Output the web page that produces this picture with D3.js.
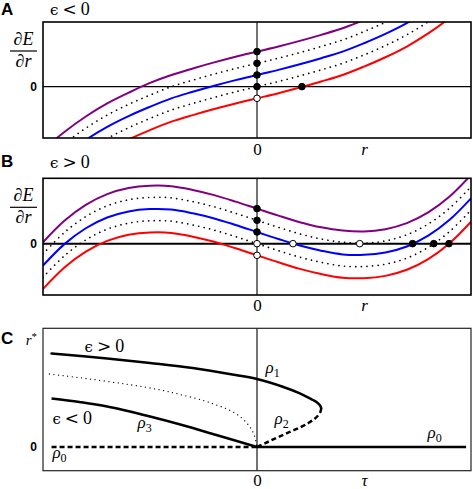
<!DOCTYPE html>
<html><head><meta charset="utf-8">
<script src="https://cdn.jsdelivr.net/npm/d3@7"></script>
<style>body{margin:0;background:#fff} svg{display:block}</style>
</head><body>
<svg id="chart" width="473" height="489"></svg>
<script>
// ---------- DATA ----------
const rSamples = [-1.0,-0.9,-0.8,-0.7,-0.6,-0.5,-0.4,-0.3,-0.2,-0.1,0,0.1,0.2,0.3,0.4,0.5,0.6,0.7,0.8,0.9,1.0];
// Panel A (eps < 0)
const aPurple   = [-1.35,-0.97,-0.64,-0.36,-0.13,0.08,0.25,0.39,0.52,0.64,0.75,0.86,0.98,1.11,1.25,1.43,1.63,1.86,2.14,2.47,2.85];
const aDotUpper = [-1.6,-1.22,-0.89,-0.61,-0.38,-0.18,0.0,0.14,0.27,0.39,0.5,0.61,0.73,0.86,1.0,1.18,1.38,1.61,1.89,2.22,2.6];
const aBlue     = [-1.85,-1.47,-1.14,-0.86,-0.63,-0.43,-0.25,-0.11,0.02,0.14,0.25,0.36,0.48,0.61,0.75,0.93,1.13,1.36,1.64,1.97,2.35];
const aDotLower = [-2.1,-1.72,-1.39,-1.11,-0.88,-0.68,-0.5,-0.36,-0.23,-0.11,0,0.11,0.23,0.36,0.5,0.68,0.88,1.11,1.39,1.72,2.1];
const aRed      = [-2.35,-1.97,-1.64,-1.36,-1.13,-0.93,-0.75,-0.61,-0.48,-0.36,-0.25,-0.14,-0.02,0.11,0.25,0.43,0.63,0.86,1.14,1.47,1.85];
const aPointR      = [0,0,0,0,0,0.21];
const aPointV      = [0.75,0.5,0.25,0,-0.25,0];
const aPointFilled = [true,true,true,true,false,true];
// Panel B (eps > 0)
const bPurple   = [0.03,0.49,0.83,1.06,1.19,1.24,1.23,1.15,1.04,0.90,0.75,0.60,0.46,0.35,0.28,0.26,0.31,0.44,0.67,1.01,1.47];
const bDotUpper = [-0.22,0.24,0.58,0.81,0.94,0.99,0.98,0.90,0.79,0.65,0.5,0.35,0.21,0.10,0.03,0.01,0.06,0.19,0.42,0.76,1.22];
const bBlue     = [-0.47,-0.01,0.33,0.56,0.69,0.74,0.73,0.65,0.54,0.40,0.25,0.10,-0.04,-0.15,-0.23,-0.24,-0.19,-0.06,0.17,0.51,0.97];
const bDotLower = [-0.72,-0.26,0.08,0.31,0.44,0.49,0.48,0.40,0.29,0.15,0,-0.15,-0.29,-0.40,-0.48,-0.49,-0.44,-0.31,-0.08,0.26,0.72];
const bRed      = [-0.97,-0.51,-0.17,0.06,0.19,0.24,0.23,0.15,0.04,-0.10,-0.25,-0.40,-0.54,-0.65,-0.73,-0.74,-0.69,-0.56,-0.33,0.01,0.47];
const bPointR      = [0,0,0,0,0,0.168,0.48,0.727,0.826,0.897];
const bPointV      = [0.75,0.5,0.25,0,-0.25,0,0,0,0,0];
const bPointFilled = [true,true,true,false,false,false,false,true,true,true];
// Panel C (bifurcation diagram)
const cRho1Tau = [0.3,0.293,0.278,0.261,0.2,0.12,0,-0.1,-0.3,-0.5,-0.7,-0.96];
const cRho1R   = [0.39,0.42,0.45,0.47,0.537,0.603,0.68,0.72,0.79,0.84,0.885,0.935];
const cRho2Tau = [0,0.05,0.1,0.15,0.2,0.24,0.268,0.287,0.297,0.3];
const cRho2R   = [0,0.05,0.1,0.148,0.195,0.24,0.28,0.32,0.355,0.39];
const cEps0Tau = [-0.97,-0.8,-0.6,-0.45,-0.35,-0.25,-0.19,-0.13,-0.08,-0.04,-0.015,0];
const cEps0R   = [0.73,0.685,0.625,0.57,0.52,0.465,0.42,0.37,0.305,0.22,0.13,0];
const cRho3Tau = [-0.96,-0.83,-0.7,-0.5,-0.35,-0.19,0];
const cRho3R   = [0.485,0.45,0.405,0.305,0.22,0.12,0];
const cRho0LeftTau  = [-0.96,0];
const cRho0RightTau = [0,0.977];
const cRho0R        = [0,0];
// tick labels
const abXTicks = [0,0.5], abXTickLabels = ["0","r"];
const cXTicks = [0,0.5],  cXTickLabels = ["0","τ"];
const abYTicks = [0], abYTickLabels = ["0"];
const cYTicks = [0,1.07], cYTickLabels = ["0","r*"];

// ---------- DRAW ----------
const svg = d3.select("#chart");
const SERIF = "'Liberation Serif','DejaVu Serif',serif";
const SANS = "'Liberation Sans',Arial,sans-serif";
const X0 = 43, X1 = 471;

function makeLine(x, y) {
  return d3.line().x(d => x(d[0])).y(d => y(d[1])).curve(d3.curveCatmullRom.alpha(0.5));
}
function zip(a, b) { return a.map((v, i) => [v, b[i]]); }

// "ϵ < 0" style condition label with a wide relation sign
function condText(parent, xp, yp, rel) {
  const t = parent.append("text").attr("x", xp).attr("y", yp).attr("font-family", SERIF).attr("font-size", 18);
  t.append("tspan").attr("font-family", "'DejaVu Serif',serif").attr("font-size", 15).text("ϵ");
  t.append("tspan").attr("dx", 4).attr("font-family", "'DejaVu Serif',serif").attr("font-size", 17).text(rel);
  t.append("tspan").attr("dx", 4).text("0");
  return t;
}

function panel(opts) {
  const x = d3.scaleLinear().domain([-1, 1]).range([X0, X1]);
  const y = d3.scaleLinear().domain(opts.yDomain).range([opts.bottom, opts.top]);
  const g = svg.append("g");
  const clipId = "clip" + opts.id;
  svg.append("clipPath").attr("id", clipId).append("rect")
    .attr("x", X0).attr("y", opts.top).attr("width", X1 - X0).attr("height", opts.bottom - opts.top);
  g.append("line").attr("x1", X0).attr("x2", X1).attr("y1", y(0)).attr("y2", y(0))
    .attr("stroke", "#000").attr("stroke-width", opts.zeroW);
  g.append("line").attr("x1", x(0)).attr("x2", x(0)).attr("y1", opts.top).attr("y2", opts.bottom)
    .attr("stroke", "#000").attr("stroke-width", 1.1);
  const cg = g.append("g").attr("clip-path", `url(#${clipId})`);
  const line = makeLine(x, y);
  opts.series.forEach(s => {
    cg.append("path").datum(zip(rSamples, s.v)).attr("d", line).attr("fill", "none")
      .attr("stroke", s.c).attr("stroke-width", s.dot ? 1.7 : 2)
      .attr("stroke-dasharray", s.dot ? "0.01 5.6" : null)
      .attr("stroke-linecap", s.dot ? "round" : "butt");
  });
  g.append("rect").attr("x", X0).attr("y", opts.top).attr("width", X1 - X0).attr("height", opts.bottom - opts.top)
    .attr("fill", "none").attr("stroke", "#000").attr("stroke-width", 1.6);
  g.selectAll("circle.pt").data(opts.pr.map((r, i) => ({ r, v: opts.pv[i], f: opts.pf[i] })))
    .enter().append("circle").attr("cx", d => x(d.r)).attr("cy", d => y(d.v)).attr("r", 3.3)
    .attr("fill", d => d.f ? "#000" : "#fff").attr("stroke", "#000").attr("stroke-width", 1);
  const xa = g.append("g").attr("transform", `translate(0,${opts.bottom})`)
    .call(d3.axisBottom(x).tickValues(abXTicks).tickFormat((d, i) => abXTickLabels[i]).tickSize(0).tickPadding(opts.xpad));
  xa.select(".domain").remove();
  xa.selectAll("text").attr("font-family", SERIF).attr("font-size", 17).attr("fill", "#000")
    .attr("font-style", (d, i) => i === 1 ? "italic" : "normal");
  const ya = g.append("g").attr("transform", `translate(${X0},0)`)
    .call(d3.axisLeft(y).tickValues(abYTicks).tickFormat((d, i) => abYTickLabels[i]).tickSize(0).tickPadding(6));
  ya.select(".domain").remove();
  ya.selectAll("text").attr("font-family", SANS).attr("font-weight", "bold").attr("font-size", 12).attr("fill", "#000");
  const fx = 23.5;
  const t1 = g.append("text").attr("x", fx).attr("y", opts.top + 23).attr("text-anchor", "middle")
    .attr("font-family", SERIF).attr("font-size", 18);
  t1.append("tspan").text("∂");
  t1.append("tspan").attr("font-style", "italic").text("E");
  g.append("line").attr("x1", 10).attr("x2", 37).attr("y1", opts.top + 29).attr("y2", opts.top + 29)
    .attr("stroke", "#000").attr("stroke-width", 1.2);
  const t2 = g.append("text").attr("x", fx).attr("y", opts.top + 45).attr("text-anchor", "middle")
    .attr("font-family", SERIF).attr("font-size", 18);
  t2.append("tspan").text("∂");
  t2.append("tspan").attr("font-style", "italic").text("r");
  svg.append("text").attr("x", 1).attr("y", opts.letterY).attr("font-family", SANS).attr("font-weight", "bold")
    .attr("font-size", 17).text(opts.letter);
  condText(svg, 50, opts.titleY, opts.rel);
}

panel({ id: "A", top: 22, bottom: 138, yDomain: [-1.1, 1.385], zeroW: 1.2, xpad: 5,
  series: [{ v: aPurple, c: "#800080" }, { v: aDotUpper, c: "#000", dot: true }, { v: aBlue, c: "#0000ff" },
           { v: aDotLower, c: "#000", dot: true }, { v: aRed, c: "#ff0000" }],
  pr: aPointR, pv: aPointV, pf: aPointFilled, letter: "A", letterY: 15, rel: "<", titleY: 15 });
panel({ id: "B", top: 178.3, bottom: 295, yDomain: [-1.1, 1.4], zeroW: 2, xpad: 4,
  series: [{ v: bPurple, c: "#800080" }, { v: bDotUpper, c: "#000", dot: true }, { v: bBlue, c: "#0000ff" },
           { v: bDotLower, c: "#000", dot: true }, { v: bRed, c: "#ff0000" }],
  pr: bPointR, pv: bPointV, pf: bPointFilled, letter: "B", letterY: 167, rel: ">", titleY: 168 });

// Panel C
(function () {
  const top = 328.3, bottom = 470.7;
  const x = d3.scaleLinear().domain([-1, 1]).range([X0, X1]);
  const y = d3.scaleLinear().domain([-0.237, 1.187]).range([bottom, top]);
  const g = svg.append("g");
  g.append("line").attr("x1", x(0)).attr("x2", x(0)).attr("y1", top).attr("y2", bottom)
    .attr("stroke", "#000").attr("stroke-width", 1.1);
  const line = makeLine(x, y);
  const lin = d3.line().x(d => x(d[0])).y(d => y(d[1]));
  g.append("path").datum(zip(cEps0Tau, cEps0R)).attr("d", line).attr("fill", "none")
    .attr("stroke", "#000").attr("stroke-width", 1.3).attr("stroke-dasharray", "0.01 4.6").attr("stroke-linecap", "round");
  g.append("path").datum(zip(cRho3Tau, cRho3R)).attr("d", line).attr("fill", "none")
    .attr("stroke", "#000").attr("stroke-width", 2.5);
  g.append("path").datum(zip(cRho1Tau, cRho1R)).attr("d", line).attr("fill", "none")
    .attr("stroke", "#000").attr("stroke-width", 2.5).attr("stroke-linecap", "round");
  g.append("path").datum(zip(cRho2Tau, cRho2R)).attr("d", line).attr("fill", "none")
    .attr("stroke", "#000").attr("stroke-width", 2.5).attr("stroke-dasharray", "5 3");
  g.append("path").datum(zip(cRho0LeftTau, cRho0R)).attr("d", lin).attr("fill", "none")
    .attr("stroke", "#000").attr("stroke-width", 2.5).attr("stroke-dasharray", "5 3");
  g.append("path").datum(zip(cRho0RightTau, cRho0R)).attr("d", lin).attr("fill", "none")
    .attr("stroke", "#000").attr("stroke-width", 2.5);
  g.append("rect").attr("x", X0).attr("y", top).attr("width", X1 - X0).attr("height", bottom - top)
    .attr("fill", "none").attr("stroke", "#222").attr("stroke-width", 1.2);
  const xa = g.append("g").attr("transform", `translate(0,${bottom})`)
    .call(d3.axisBottom(x).tickValues(cXTicks).tickFormat((d, i) => cXTickLabels[i]).tickSize(0).tickPadding(3));
  xa.select(".domain").remove();
  xa.selectAll("text").attr("font-family", SERIF).attr("font-size", 17).attr("fill", "#000")
    .attr("font-style", (d, i) => i === 1 ? "italic" : "normal");
  const ya = g.append("g").attr("transform", `translate(${X0},0)`)
    .call(d3.axisLeft(y).tickValues(cYTicks).tickFormat((d, i) => cYTickLabels[i]).tickSize(0).tickPadding(6));
  ya.select(".domain").remove();
  ya.selectAll("text").each(function (d, i) {
    const t = d3.select(this).attr("fill", "#000");
    if (i === 0) t.attr("font-family", SANS).attr("font-weight", "bold").attr("font-size", 12);
    else {
      t.text(null).attr("font-family", SERIF).attr("font-size", 15);
      t.append("tspan").attr("font-style", "italic").text("r");
      t.append("tspan").attr("font-size", 11).attr("dy", -5).text("*");
    }
  });
  svg.append("text").attr("x", 1).attr("y", 344).attr("font-family", SANS).attr("font-weight", "bold")
    .attr("font-size", 17).text("C");
  function label(tau, r, main, sub) {
    const t = g.append("text").attr("x", x(tau)).attr("y", y(r)).attr("font-family", SERIF).attr("font-size", 17);
    t.append("tspan").attr("font-style", "italic").text(main);
    t.append("tspan").attr("font-size", 12).attr("dy", 4).text(sub);
  }
  condText(g, x(-0.806), y(0.95), ">");
  condText(g, x(-0.956), y(0.23), "<");
  label(-0.558, 0.19, "ρ", "3");
  label(-0.956, -0.11, "ρ", "0");
  label(0.04, 0.74, "ρ", "1");
  label(0.082, 0.23, "ρ", "2");
  label(0.797, 0.09, "ρ", "0");
})();
</script>
</body></html>
